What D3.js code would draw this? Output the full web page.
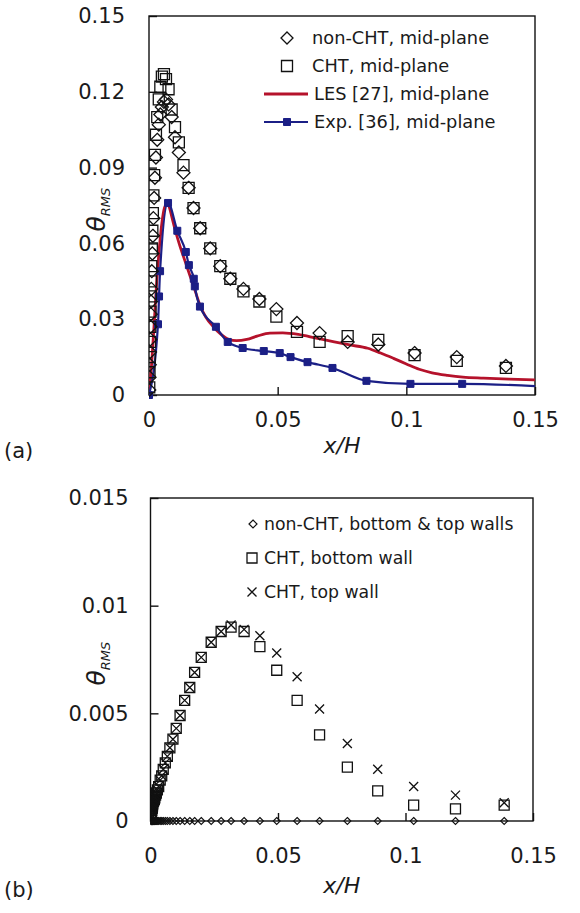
<!DOCTYPE html>
<html>
<head>
<meta charset="utf-8">
<script src="https://cdn.jsdelivr.net/npm/d3@7"></script>
<style>
  body { margin: 0; background: #fff; }
  svg text { font-family: "DejaVu Sans", "Open Sans", sans-serif; fill: #1a1a1a; }
  .frame { fill: none; stroke: #111; stroke-width: 1.4; }
  .axis path { display: none; }
  .axis line { stroke: #111; stroke-width: 1.4; }
</style>
</head>
<body>
<svg id="chart" width="580" height="913"></svg>
<script>
// ---- data, panel (a): mid-plane ----
var xTicksLabels = ['0', '0.05', '0.1', '0.15'];
var xTickValues = [0, 0.05, 0.1, 0.15];
var yTicksA = [0, 0.03, 0.06, 0.09, 0.12, 0.15];
var yTicksB = [0, 0.005, 0.01, 0.015];

// streamwise stations of the simulations (x/H)
var simX = [0.0001, 0.0002, 0.0003, 0.0004, 0.0005, 0.0006, 0.0007, 0.0008, 0.0009, 0.0011,
  0.0013, 0.0015, 0.0017, 0.002, 0.0023, 0.0027, 0.0032, 0.0038, 0.0044, 0.005,
  0.0058, 0.0066, 0.0076, 0.0088, 0.0101, 0.0116, 0.0134, 0.0154, 0.0173, 0.0199,
  0.0238, 0.0277, 0.0316, 0.0367, 0.0429, 0.0495, 0.0575, 0.0663, 0.0772, 0.0891,
  0.1032, 0.1196, 0.1387];

var nonChtMid = [0.002, 0.007, 0.012, 0.017, 0.022, 0.027, 0.032, 0.037, 0.042, 0.049,
  0.056, 0.063, 0.070, 0.078, 0.086, 0.094, 0.101, 0.107, 0.111, 0.114,
  0.116, 0.117, 0.115, 0.110, 0.102, 0.096, 0.088, 0.082, 0.074, 0.066,
  0.058, 0.051, 0.046, 0.042, 0.038, 0.034, 0.0285, 0.0245, 0.021, 0.020,
  0.0166, 0.015, 0.0115];

var chtMid = [0.003, 0.009, 0.015, 0.021, 0.027, 0.033, 0.039, 0.045, 0.051, 0.058,
  0.065, 0.072, 0.079, 0.087, 0.095, 0.103, 0.110, 0.117, 0.122, 0.126,
  0.127, 0.125, 0.121, 0.113, 0.106, 0.100, 0.091, 0.082, 0.074, 0.066,
  0.058, 0.051, 0.046, 0.041, 0.037, 0.031, 0.025, 0.021, 0.0233, 0.0218,
  0.0158, 0.0135, 0.0107];

var lesX = [0, 0.001, 0.002, 0.003, 0.004, 0.005, 0.006, 0.0072, 0.008, 0.009,
  0.010, 0.012, 0.014, 0.016, 0.018, 0.020, 0.022, 0.025, 0.028, 0.031,
  0.034, 0.038, 0.042, 0.047, 0.052, 0.058, 0.065, 0.072, 0.078, 0.085,
  0.090, 0.095, 0.100, 0.105, 0.110, 0.116, 0.122, 0.130, 0.140, 0.150];
var lesY = [0, 0.012, 0.028, 0.045, 0.058, 0.068, 0.074, 0.076, 0.074, 0.070,
  0.066, 0.059, 0.053, 0.047, 0.041, 0.035, 0.031, 0.027, 0.024, 0.022,
  0.0215, 0.022, 0.0233, 0.0245, 0.0246, 0.024, 0.0225, 0.021, 0.0198, 0.0185,
  0.0166, 0.0145, 0.0123, 0.0102, 0.0088, 0.0078, 0.0071, 0.0067, 0.0063, 0.006];

var expX = [0, 0.0035, 0.0039, 0.0043, 0.0074, 0.0110, 0.0143, 0.0155, 0.0174, 0.0178,
  0.0198, 0.026, 0.0306, 0.0364, 0.0446, 0.0508, 0.055, 0.0616, 0.0713, 0.0845,
  0.1016, 0.1217, 0.16];
var expY = [0, 0.028, 0.039, 0.049, 0.076, 0.065, 0.0566, 0.0514, 0.046, 0.043,
  0.035, 0.027, 0.021, 0.0186, 0.0174, 0.0166, 0.015, 0.013, 0.0107, 0.0056,
  0.0044, 0.0044, 0.003];

// ---- data, panel (b): walls ----
var nonChtWall = [0, 0, 0, 0, 0, 0, 0, 0, 0, 0,
  0, 0, 0, 0, 0, 0, 0, 0, 0, 0,
  0, 0, 0, 0, 0, 0, 0, 0, 0, 0,
  0, 0, 0, 0, 0, 0, 0, 0, 0, 0,
  0, 0, 0];
var chtBottom = [0.0001, 0.0002, 0.0003, 0.0004, 0.0005, 0.0006, 0.0006, 0.0007, 0.0008, 0.0009,
  0.00095, 0.001, 0.00108, 0.0012, 0.0013, 0.00145, 0.0016, 0.0019, 0.0021, 0.0024,
  0.0027, 0.0030, 0.0034, 0.0038, 0.0043, 0.0049, 0.0056, 0.0062, 0.0069, 0.0076,
  0.0083, 0.0088, 0.0090, 0.0088, 0.0081, 0.0070, 0.0056, 0.0040, 0.0025, 0.0014,
  0.00074, 0.00056, 0.00074];
var chtTop = [0.0001, 0.0002, 0.0003, 0.0004, 0.0005, 0.0006, 0.0006, 0.0007, 0.0008, 0.0009,
  0.00095, 0.001, 0.00108, 0.0012, 0.0013, 0.00145, 0.0016, 0.0019, 0.0021, 0.0024,
  0.0027, 0.0030, 0.0034, 0.0038, 0.0043, 0.0049, 0.0056, 0.0062, 0.0069, 0.0076,
  0.0083, 0.0088, 0.0091, 0.0089, 0.0086, 0.0078, 0.0067, 0.0052, 0.0036, 0.0024,
  0.0016, 0.0012, 0.00085];

var legendA = ['non-CHT, mid-plane', 'CHT, mid-plane', 'LES [27], mid-plane', 'Exp. [36], mid-plane'];
var legendB = ['non-CHT, bottom & top walls', 'CHT, bottom wall', 'CHT, top wall'];

var RED = '#b5122b';
var NAVY = '#1b1f86';

var svg = d3.select('#chart');

// marker paths centred on 0,0
function diamond(w, h) {
  return 'M0,' + (-h / 2) + 'L' + (w / 2) + ',0L0,' + (h / 2) + 'L' + (-w / 2) + ',0Z';
}
function square(s) {
  return 'M' + (-s / 2) + ',' + (-s / 2) + 'h' + s + 'v' + s + 'h' + (-s) + 'Z';
}
function cross(s) {
  var a = s / 2;
  return 'M' + (-a) + ',' + (-a) + 'L' + a + ',' + a + 'M' + (-a) + ',' + a + 'L' + a + ',' + (-a);
}

function zip(xs, ys) {
  return xs.map(function (v, i) { return [v, ys[i]]; });
}

function panel(cfg) {
  var g = svg.append('g');
  var x = d3.scaleLinear().domain([0, 0.15]).range([cfg.left, cfg.right]);
  var y = d3.scaleLinear().domain([0, cfg.ymax]).range([cfg.bottom, cfg.top]);

  var clipId = 'clip' + cfg.name;
  svg.append('clipPath').attr('id', clipId).append('rect')
    .attr('x', cfg.left).attr('y', cfg.top - 10)
    .attr('width', cfg.right - cfg.left).attr('height', cfg.bottom - cfg.top + 20);

  g.append('g').attr('class', 'axis')
    .attr('transform', 'translate(0,' + cfg.bottom + ')')
    .call(d3.axisBottom(x).tickValues(xTickValues)
      .tickFormat(function (d, i) { return xTicksLabels[i]; })
      .tickSizeInner(-8).tickSizeOuter(0).tickPadding(cfg.xpad))
    .selectAll('text').style('font-size', '21px').attr('fill', '#1a1a1a');

  g.append('g').attr('class', 'axis')
    .attr('transform', 'translate(' + cfg.left + ',0)')
    .call(d3.axisLeft(y).tickValues(cfg.yTicks)
      .tickFormat(function (d) { return d === 0 ? '0' : String(+d.toFixed(4)); })
      .tickSizeInner(-8).tickSizeOuter(0).tickPadding(cfg.ypad))
    .selectAll('text').style('font-size', '21px').attr('fill', '#1a1a1a');

  g.append('rect').attr('class', 'frame')
    .attr('x', cfg.left).attr('y', cfg.top)
    .attr('width', cfg.right - cfg.left).attr('height', cfg.bottom - cfg.top);

  var plot = g.append('g').attr('clip-path', 'url(#' + clipId + ')');

  // x/H title
  g.append('text').attr('x', (cfg.left + cfg.right) / 2).attr('y', cfg.bottom + cfg.titleOff)
    .attr('text-anchor', 'middle').style('font-size', '22px').style('font-style', 'italic')
    .text('x/H');

  // theta_RMS title
  var t = g.append('text')
    .attr('transform', 'translate(105,' + ((cfg.top + cfg.bottom) / 2 + 26) + ') rotate(-90)')
    .style('font-style', 'italic');
  t.append('tspan').style('font-size', '25px').text('θ');
  t.append('tspan').style('font-size', '13px').attr('dy', 5).text('RMS');

  g.append('text').attr('x', 4).attr('y', cfg.bottom + cfg.tagOff)
    .style('font-size', '21px').text(cfg.tag);

  return { x: x, y: y, plot: plot, g: g };
}

function drawMarkers(p, xs, ys, path, opts) {
  p.plot.selectAll(null).data(zip(xs, ys)).enter().append('path')
    .attr('d', path)
    .attr('transform', function (d) { return 'translate(' + p.x(d[0]) + ',' + p.y(d[1]) + ')'; })
    .attr('fill', opts.fill || 'none')
    .attr('stroke', opts.stroke || '#111')
    .attr('stroke-width', opts.width || 1.3);
}

// ---- panel (a) ----
var a = panel({ name: 'a', left: 149, right: 535, top: 16, bottom: 395, ymax: 0.15,
  yTicks: yTicksA, ypad: 24, xpad: 17, titleOff: 58, tagOff: 63, tag: '(a)' });

a.plot.append('path').datum(zip(lesX, lesY))
  .attr('fill', 'none').attr('stroke', RED).attr('stroke-width', 2.8)
  .attr('d', d3.line().x(function (d) { return a.x(d[0]); }).y(function (d) { return a.y(d[1]); })
    .curve(d3.curveMonotoneX));

a.plot.append('path').datum(zip(expX, expY))
  .attr('fill', 'none').attr('stroke', NAVY).attr('stroke-width', 2.2)
  .attr('d', d3.line().x(function (d) { return a.x(d[0]); }).y(function (d) { return a.y(d[1]); })
    .curve(d3.curveMonotoneX));
drawMarkers(a, expX, expY, square(7), { fill: NAVY, stroke: NAVY, width: 1 });

drawMarkers(a, simX, chtMid, square(11), {});
drawMarkers(a, simX, nonChtMid, diamond(13, 13), {});

// legend (a)
var legA = a.g.append('g');
legendA.forEach(function (label, i) {
  var yy = 38 + i * 28;
  legA.append('text').attr('x', i < 2 ? 312 : 314).attr('y', yy).attr('dy', '0.35em')
    .style('font-size', '17.8px').text(label);
});
legA.append('path').attr('d', diamond(12, 12)).attr('transform', 'translate(287,38)')
  .attr('fill', 'none').attr('stroke', '#111').attr('stroke-width', 1.3);
legA.append('path').attr('d', square(11)).attr('transform', 'translate(287,66)')
  .attr('fill', 'none').attr('stroke', '#111').attr('stroke-width', 1.3);
legA.append('line').attr('x1', 264).attr('x2', 308).attr('y1', 94).attr('y2', 94)
  .attr('stroke', RED).attr('stroke-width', 2.8);
legA.append('line').attr('x1', 264).attr('x2', 308).attr('y1', 122).attr('y2', 122)
  .attr('stroke', NAVY).attr('stroke-width', 2.2);
legA.append('path').attr('d', square(7)).attr('transform', 'translate(287,122)')
  .attr('fill', NAVY).attr('stroke', NAVY);

// ---- panel (b) ----
var b = panel({ name: 'b', left: 150.5, right: 533, top: 498, bottom: 821, ymax: 0.015,
  yTicks: yTicksB, ypad: 22, xpad: 27, titleOff: 72, tagOff: 76, tag: '(b)' });

drawMarkers(b, simX, nonChtWall, diamond(7, 7), { width: 1.1 });
drawMarkers(b, simX, chtBottom, square(10), {});
drawMarkers(b, simX, chtTop, cross(9), {});

var legB = b.g.append('g');
legendB.forEach(function (label, i) {
  legB.append('text').attr('x', 264).attr('y', 524 + i * 34).attr('dy', '0.35em')
    .style('font-size', '17.3px').text(label);
});
legB.append('path').attr('d', diamond(8, 8)).attr('transform', 'translate(253,524)')
  .attr('fill', 'none').attr('stroke', '#111').attr('stroke-width', 1.2);
legB.append('path').attr('d', square(10)).attr('transform', 'translate(252,558)')
  .attr('fill', 'none').attr('stroke', '#111').attr('stroke-width', 1.3);
legB.append('path').attr('d', cross(9)).attr('transform', 'translate(252,592)')
  .attr('fill', 'none').attr('stroke', '#111').attr('stroke-width', 1.3);
</script>
</body>
</html>
